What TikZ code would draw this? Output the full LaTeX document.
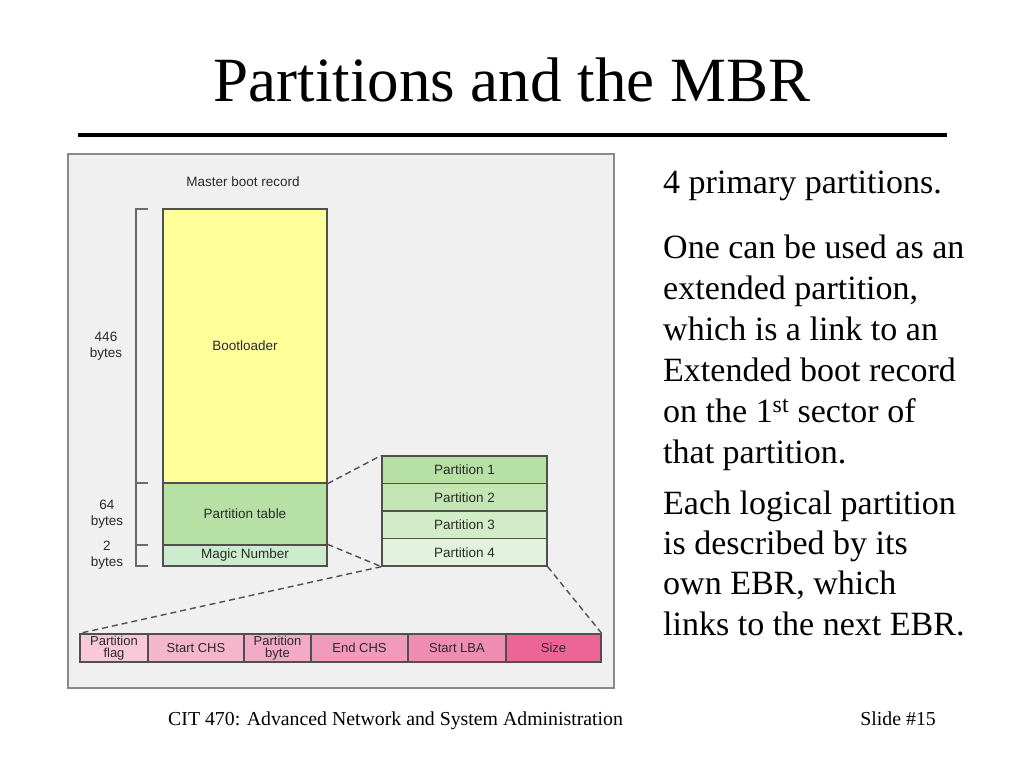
\documentclass[tikz,border=0pt]{standalone}
\usepackage{fontspec}
\setmainfont{Liberation Serif}
\newfontfamily\figfont{Liberation Sans}
\definecolor{panelbg}{HTML}{F0F0F0}
\definecolor{panelbd}{HTML}{8A8A8A}
\definecolor{boxbd}{HTML}{505050}
\definecolor{figtxt}{HTML}{2A2A2A}
\definecolor{yel}{HTML}{FFFF99}
\definecolor{gA}{HTML}{B6E0A4}
\definecolor{gB}{HTML}{C4E6B4}
\definecolor{gC}{HTML}{D3ECC8}
\definecolor{gD}{HTML}{E3F2DC}
\definecolor{gM}{HTML}{CCEBCC}
\definecolor{pA}{HTML}{F9C9D9}
\definecolor{pB}{HTML}{F5B5CB}
\definecolor{pC}{HTML}{F3AAC4}
\definecolor{pD}{HTML}{F09BBA}
\definecolor{pE}{HTML}{EE8DB1}
\definecolor{pF}{HTML}{EC6594}
\begin{document}
\begin{tikzpicture}[x=1pt,y=-1pt,
  fbox/.style={draw=boxbd, line width=1.3pt, rectangle, inner sep=0pt, text=figtxt,
    font=\figfont\fontsize{13.5}{13}\selectfont, align=center},
  flabel/.style={text=figtxt, font=\figfont\fontsize{13.5}{16.5}\selectfont, align=center, inner sep=0pt},
  zoomline/.style={draw=boxbd, line width=1.4pt, dash pattern=on 6pt off 4pt},
  brk/.style={draw=boxbd!85, line width=1.5pt},
  body/.style={font=\fontsize{34}{41}\selectfont, anchor=base west, inner sep=0pt}]
\path[use as bounding box, fill=white] (0,0) rectangle (1024,768);
% title
\node[font=\fontsize{63}{70}\selectfont, anchor=base, inner sep=0pt] (title) at (512,101) {Partitions and the MBR};
\draw[line width=4pt] (78,135) -- (947,135);
% panel
\draw[panelbd, fill=panelbg, line width=1.2pt] (68,154) rectangle (614,688);
\node[flabel] (mbr) at (243,182) {Master boot record};
% MBR stack
\node[fbox, fill=yel, minimum width=164pt, minimum height=274pt] (boot) at (245,346) {Bootloader};
\node[fbox, fill=gA, minimum width=164pt, minimum height=62pt] (ptab) at (245,514) {Partition table};
\node[fbox, fill=gM, minimum width=164pt, minimum height=21pt] (magic) at (245,555.5) {Magic Number};
% bracket
\draw[brk] (148,209) -- (136,209) -- (136,566) -- (148,566);
\draw[brk] (136,483) -- (148,483);
\draw[brk] (136,545) -- (148,545);
\node[flabel] (b446) at (106,346) {446\\bytes};
\node[flabel] (b64) at (107,514) {64\\bytes};
\node[flabel] (b2) at (107,555) {2\\bytes};
% partition entries
\node[fbox, fill=gA, minimum width=165pt, minimum height=27.5pt] (p1) at (464.5,469.75) {Partition 1};
\node[fbox, fill=gB, minimum width=165pt, minimum height=27.5pt] (p2) at (464.5,497.25) {Partition 2};
\node[fbox, fill=gC, minimum width=165pt, minimum height=27.5pt] (p3) at (464.5,524.75) {Partition 3};
\node[fbox, fill=gD, minimum width=165pt, minimum height=27.5pt] (p4) at (464.5,552.25) {Partition 4};
% entry fields
\begin{scope}[every node/.append style={fbox, minimum height=28pt, font=\figfont\fontsize{13}{11.5}\selectfont}]
\node[fill=pA, minimum width=68pt] (flag) at (114,648) {Partition\\flag};
\node[fill=pB, minimum width=96pt] (schs) at (196,648) {Start CHS};
\node[fill=pC, minimum width=67pt] (pbyte) at (277.5,648) {Partition\\byte};
\node[fill=pD, minimum width=97pt] (echs) at (359.5,648) {End CHS};
\node[fill=pE, minimum width=98pt] (slba) at (457,648) {Start LBA};
\node[fill=pF, minimum width=95pt] (size) at (553.5,648) {Size};
\end{scope}
% dashed zoom lines
\draw[zoomline] (boot.south east) -- (p1.north west);
\draw[zoomline] (magic.north east) -- (p4.south west);
\draw[zoomline] (p4.south west) -- (flag.north west);
\draw[zoomline] (p4.south east) -- (size.north east);
% body text
\node[body] (t1) at (663,193) {4 primary partitions.};
\node[body] (t2) at (663,258) {One can be used as an};
\node[body] (t3) at (663,299) {extended partition,};
\node[body] (t4) at (663,340) {which is a link to an};
\node[body] (t5) at (663,381) {Extended boot record};
\node[body] (t6) at (663,422) {on the 1\textsuperscript{st} sector of};
\node[body] (t7) at (663,463) {that partition.};
\node[body] (t8) at (663,514) {Each logical partition};
\node[body] (t9) at (663,554) {is described by its};
\node[body] (t10) at (663,594) {own EBR, which};
\node[body] (t11) at (663,635) {links to the next EBR.};
% footer
\node[font=\fontsize{19.8}{22}\selectfont, anchor=base west, inner sep=0pt] (foot) at (168,725) {CIT 470: Advanced Network and System Administration};
\node[font=\fontsize{19.8}{22}\selectfont, anchor=base east, inner sep=0pt] (slide) at (936,725) {Slide \#15};
\end{tikzpicture}
\end{document}
